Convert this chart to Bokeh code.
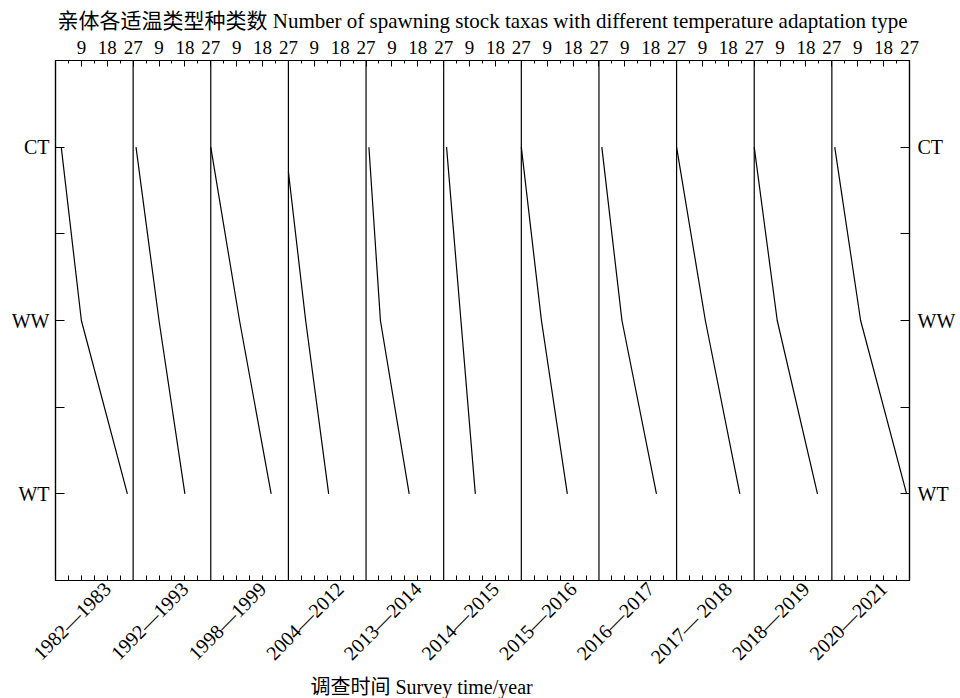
import math
from bokeh.plotting import figure
from bokeh.models import Range1d, LinearAxis, FixedTicker, Span, Title
from bokeh.embed import file_html
from bokeh.resources import INLINE

# ---- data ----
periods = ["1982\u20141983", "1992\u20141993", "1998\u20141999", "2004\u20142012",
           "2013\u20142014", "2014\u20142015", "2015\u20142016", "2016\u20142017",
           "2017\u2014 2018", "2018\u20142019", "2020\u20142021"]
ct_taxa = [2, 1, 0, -1, 1, 1, 0, 1, 0, 0, 1]
ww_taxa = [9, 9, 10, 6, 5, 6, 7, 8, 10, 8, 10]
wt_taxa = [25, 18, 21, 14, 15, 11, 16, 20, 22, 22, 26]
types = ["WT", "WW", "CT"]          # bottom to top
top_tick_values = [9, 18, 27]
top_minor_values = [4.5, 13.5, 22.5]
bottom_minor_values = [4.5, 9, 13.5, 22.5]
bottom_label_at = 18
panel_max = 27

title_text = "亲体各适温类型种类数 Number of spawning stock taxas with different temperature adaptation type"
xlabel_text = "调查时间 Survey time/year"

SERIF = "'Liberation Serif', 'Noto Sans CJK SC', serif"
n = len(periods)

p = figure(width=960, height=698, output_backend="svg", toolbar_location=None,
           x_range=Range1d(0, n * panel_max), y_range=Range1d(-0.5, len(types) - 0.5),
           min_border_left=55, min_border_right=51, min_border_top=60, min_border_bottom=118,
           background_fill_color="white", border_fill_color="white")
p.xgrid.visible = False
p.ygrid.visible = False
p.outline_line_color = "black"
p.outline_line_width = 1.2

bot = p.below[0]
left = p.left[0]

# title
p.title.text = title_text
p.title.align = "center"
p.title.text_font = SERIF
p.title.text_font_size = "21px"
p.title.text_font_style = "normal"
p.title.text_color = "black"

# ---- lines per panel ----
xs, ys = [], []
for i, (c, w, t) in enumerate(zip(ct_taxa, ww_taxa, wt_taxa)):
    off = i * panel_max
    px = [c, w, t]
    py = [2, 1, 0]
    if c < 0:  # the panel clips the line at its left edge
        frac = (0 - c) / (w - c)
        px[0] = 0
        py[0] = 2 - frac
    xs.append([off + v for v in px])
    ys.append(py)
p.multi_line(xs, ys, line_color="black", line_width=1.2)

# panel separators
for k in range(1, n):
    p.add_layout(Span(location=k * panel_max, dimension="height",
                      line_color="black", line_width=1.2))

def style_axis(ax, size):
    ax.axis_line_color = "black"
    ax.axis_line_width = 1.2
    ax.major_tick_line_color = "black"
    ax.minor_tick_line_color = "black"
    ax.major_label_text_font = SERIF
    ax.major_label_text_font_size = size
    ax.major_label_text_color = "black"
    ax.major_tick_out = 0
    ax.minor_tick_out = 0

# ---- y axes ----
y_ticker = FixedTicker(ticks=list(range(len(types))), minor_ticks=[0.5, 1.5])
y_over = {i: t for i, t in enumerate(types)}
left.ticker = y_ticker
left.major_label_overrides = y_over
style_axis(left, "20px")
left.major_tick_in = 9
left.minor_tick_in = 9
left.major_label_standoff = 6

right = LinearAxis(ticker=y_ticker, major_label_overrides=y_over)
style_axis(right, "20px")
right.major_tick_in = 9
right.minor_tick_in = 9
right.major_label_standoff = 8
p.add_layout(right, "right")

# ---- top axis ----
top_major = [k * panel_max + v for k in range(n) for v in top_tick_values]
top_minor = [k * panel_max + v for k in range(n) for v in top_minor_values]
top_over = {k * panel_max + v: str(v) for k in range(n) for v in top_tick_values}
top = LinearAxis(ticker=FixedTicker(ticks=top_major, minor_ticks=top_minor),
                 major_label_overrides=top_over)
style_axis(top, "19px")
top.major_tick_in = 6
top.minor_tick_in = 3
top.major_label_standoff = 7
p.add_layout(top, "above")

# ---- bottom axis ----
bot.ticker = FixedTicker(ticks=[k * panel_max + bottom_label_at for k in range(n)],
                         minor_ticks=[k * panel_max + v for k in range(n) for v in bottom_minor_values])
bot.major_label_overrides = {k * panel_max + bottom_label_at: periods[k] for k in range(n)}
style_axis(bot, "20px")
bot.major_tick_in = 5
bot.minor_tick_in = 5
bot.major_label_orientation = math.pi / 4
bot.major_label_standoff = 5

# x axis title below the tick labels, placed like the reference (left of centre)
p.add_layout(Title(text=xlabel_text, align="left", offset=255, standoff=-5,
                   vertical_align="top",
                   text_font=SERIF, text_font_size="20px", text_font_style="normal",
                   text_color="black"), "below")

open("out.html", "w").write(file_html(p, INLINE))
